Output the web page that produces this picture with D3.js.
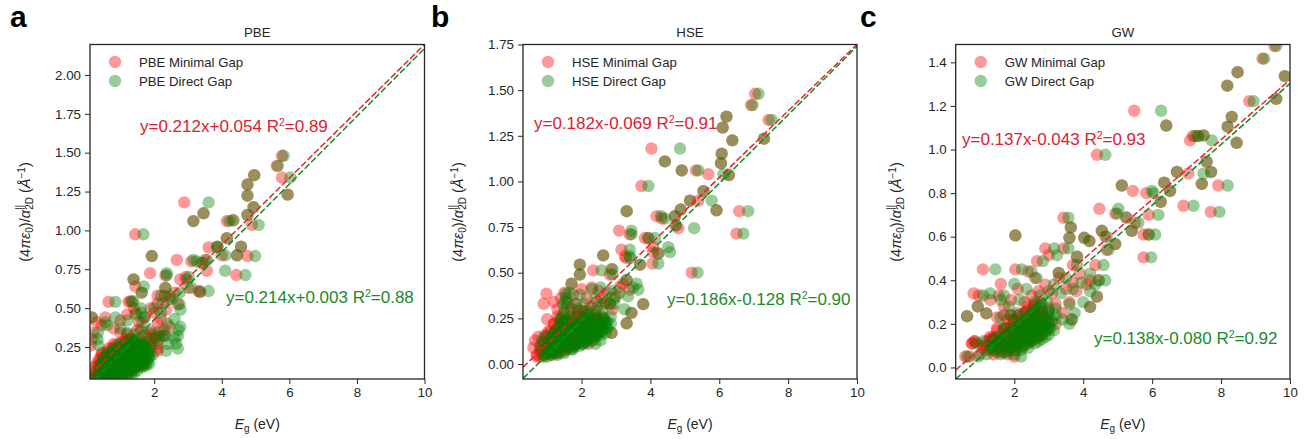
<!DOCTYPE html>
<html>
<head>
<meta charset="utf-8">
<script src="https://cdn.jsdelivr.net/npm/d3@7"></script>
<style>
body { margin: 0; background: #fff; }
text { font-family: "Liberation Sans", Arial, sans-serif; fill: #262626; }
</style>
</head>
<body>
<div id="chart"></div>
<script>
// values, each row is 10 materials
var pbeMinX = [
  5.78,5.63,5.78,4.76,4.96,4.76,5.95,2.89,3.16,3.46,
  4.94,4.76,4.15,4.32,4.89,1.44,4.15,3.61,3.86,4.57,
  4.0,4.45,4.76,1.93,2.67,3.1,3.51,3.4,1.88,2.33,
  4.43,3.56,1.39,2.77,2.93,1.44,1.63,3.31,2.33,3.36,
  3.0,.65,1.24,1.3,2.1,2.3,2.45,2.6,2.7,2.1,
  .15,.3,.15,.12,.45,.55,.8,1.0,1.2,1.4,
  1.45,1.55,1.7,1.9,2.0,2.1,2.2,2.35,2.45,2.3,
  2.25,2.1,2.1,1.0,1.2,1.5,1.7,1.8,1.9,.2,
  .12,.15,.2,.25,.3,.35,.4,.45,.5,.55,
  .6,.65,.7,.75,.8,.85,.9,.95,1.0,1.05,
  .35,.45,.55,.65,.75,.85,.95,1.05,1.15,1.25,
  1.1,1.2,1.3,1.35,1.4,1.45,1.5,1.55,1.6,1.65,
  .7,.8,.9,1.0,1.1,1.2,1.3,1.4,1.5,1.6,
  1.7,1.75,1.8,1.4,1.3,1.2,1.1,1.55,1.65,1.45,
  1.9,2.0,2.1,2.0,1.9,2.15,.5,.4,.6,.3,
  .3,.45,.55,.7,.8,.9,1.0,1.1,1.2,1.3,
  .35,.5,.65,.75,.85,.95,1.05,1.15,1.25,1.35,
  .45,.6,.75,.9,1.0,1.1,1.2,1.3,1.4,1.45,
  1.5,1.55,1.6,1.65,1.7,1.35,1.45,1.55,1.25,1.15,
  .2,.4,.6,.85,.95,1.15,1.3,1.4,1.05,.8,
  .55,.7,.8,1.0,1.1,1.2,1.35,1.5,1.6,1.7
];
var pbeDirX = [
  5.83,5.66,6.03,4.76,4.96,4.76,5.95,3.61,3.16,3.46,
  4.94,4.76,4.22,4.35,5.09,1.68,4.15,3.86,3.88,4.57,
  4.1,4.45,4.99,1.93,3.16,3.26,3.56,3.45,2.37,2.37,
  4.7,4.1,1.39,2.97,3.02,1.69,1.63,3.61,2.33,3.36,
  3.1,.85,1.34,1.38,2.2,2.45,2.52,2.75,2.75,2.25,
  .16,.55,.32,.35,.6,.85,1.0,1.2,1.45,1.6,
  1.62,1.65,1.72,2.0,2.2,2.4,2.6,2.78,2.77,2.72,
  2.7,2.65,2.35,1.2,1.4,1.6,1.85,2.05,2.15,.33,
  .25,.3,.35,.4,.45,.5,.55,.6,.7,.75,
  .8,.8,.9,.95,1.0,1.0,1.05,1.1,1.2,1.2,
  .5,.65,.7,.8,.95,1.05,1.15,1.25,1.3,1.4,
  1.3,1.35,1.45,1.5,1.55,1.65,1.7,1.7,1.75,1.85,
  .85,1.0,1.1,1.2,1.25,1.4,1.5,1.6,1.65,1.75,
  1.85,1.9,1.95,1.6,1.45,1.35,1.3,1.7,1.8,1.6,
  2.4,2.6,2.7,2.3,2.1,2.35,.6,.5,.75,.4,
  .45,.6,.7,.85,.95,1.05,1.15,1.25,1.35,1.45,
  .5,.65,.8,.9,1.0,1.1,1.2,1.3,1.4,1.5,
  .6,.75,.9,1.05,1.15,1.25,1.35,1.45,1.55,1.6,
  1.65,1.7,1.75,1.8,1.85,1.5,1.6,1.7,1.4,1.3,
  .35,.55,.75,1.0,1.1,1.3,1.45,1.55,1.2,.95,
  .7,.85,.95,1.15,1.25,1.35,1.5,1.65,1.75,1.85
];
var pbeY = [
  1.48,1.415,1.34,1.295,1.355,1.223,1.23,1.18,1.06,1.11,
  1.15,1.10,1.06,1.065,1.035,.975,.95,.89,.895,.895,
  .84,.84,.835,.835,.81,.80,.81,.79,.725,.71,
  .713,.74,.685,.685,.70,.64,.60,.61,.63,.605,
  .63,.54,.54,.545,.58,.58,.56,.60,.525,.53,
  .44,.41,.30,.26,.39,.44,.37,.42,.46,.50,
  .47,.41,.44,.50,.47,.40,.43,.49,.38,.36,
  .32,.27,.225,.34,.33,.36,.34,.31,.35,.34,
  .06,.09,.055,.12,.07,.1,.06,.13,.08,.05,
  .11,.07,.14,.09,.17,.06,.12,.15,.08,.19,
  .16,.2,.18,.24,.21,.26,.23,.28,.13,.17,
  .1,.22,.14,.26,.19,.12,.23,.16,.28,.21,
  .19,.13,.19,.13,.24,.08,.2,.16,.18,.13,
  .18,.25,.2,.29,.3,.29,.16,.26,.15,.22,
  .27,.31,.24,.33,.29,.32,.15,.18,.22,.14,
  .07,.1,.06,.08,.12,.07,.1,.06,.09,.12,
  .13,.16,.13,.17,.2,.15,.18,.13,.16,.1,
  .21,.2,.24,.23,.27,.22,.26,.21,.15,.18,
  .13,.2,.16,.23,.19,.26,.24,.27,.29,.3,
  .05,.05,.1,.05,.09,.1,.15,.2,.24,.27,
  .14,.18,.09,.13,.17,.2,.18,.22,.25,.14
];

var hseMinX = [
  7.04,6.92,7.43,6.21,6.1,6.38,7.3,4.03,4.42,6.07,
  6.05,4.91,5.32,5.68,6.28,3.74,5.54,5.15,5.39,3.31,
  5.92,6.58,4.18,4.33,4.88,4.71,4.74,4.81,3.09,3.4,
  6.5,3.84,3.94,4.08,4.08,4.23,3.16,3.26,3.3,2.63,
  4.06,3.7,5.2,1.95,1.95,2.34,2.87,2.82,3.31,1.71,
  3.4,3.79,.98,.9,1.0,1.2,3.45,3.31,2.87,2.82,
  1.3,1.4,1.5,1.6,1.75,1.85,2.0,2.15,2.3,2.5,
  2.6,2.75,3.0,3.1,3.2,2.05,2.25,2.45,2.65,2.9,
  .6,.65,.7,.75,.8,.85,.9,.95,1.0,1.05,
  1.1,1.15,1.2,1.25,1.3,1.35,1.4,1.45,1.5,1.55,
  1.6,1.65,1.7,1.75,1.8,1.85,1.9,1.95,2.0,2.05,
  2.1,2.15,2.2,2.25,2.3,2.35,2.4,2.45,2.5,2.55,
  1.0,1.1,1.2,1.3,1.4,1.5,1.6,1.7,1.8,1.9,
  1.2,1.3,1.4,1.5,1.6,1.7,1.8,1.9,2.0,2.1,
  2.0,2.1,2.2,2.3,2.4,2.5,2.6,2.2,2.3,2.4,
  .7,.8,.9,1.0,1.1,1.2,1.3,1.4,1.5,1.6,
  .9,1.0,1.1,1.2,1.3,1.4,1.5,1.6,1.7,1.8,
  1.2,1.3,1.4,1.5,1.6,1.7,1.8,1.9,2.0,2.1,
  1.9,2.0,2.1,2.2,2.3,2.4,2.5,2.2,2.0,1.8,
  .8,1.0,1.15,1.35,1.55,1.75,1.95,2.15,2.35,2.45,
  1.65,1.45,1.25,1.05,1.85,2.05,2.25,2.55,2.65,.95
];
var hseDirX = [
  7.14,6.97,7.52,6.21,6.1,6.38,7.3,4.86,4.42,6.07,
  6.05,4.91,5.39,6.12,6.28,3.94,5.54,5.15,5.78,3.31,
  5.92,6.84,4.31,4.42,4.88,4.71,4.74,5.27,3.45,3.45,
  6.7,3.94,4.13,4.52,4.57,4.23,3.4,3.4,3.42,2.63,
  4.23,3.7,5.37,1.95,1.95,2.58,2.9,2.9,3.31,1.71,
  3.65,3.79,1.55,1.47,1.35,1.55,3.45,3.31,2.87,2.82,
  1.5,1.55,1.65,1.8,1.95,2.1,2.3,2.4,2.55,2.85,
  2.95,3.1,3.35,3.5,3.6,2.2,2.45,2.7,2.95,3.25,
  .8,.85,.9,.95,1.0,1.05,1.1,1.15,1.2,1.25,
  1.25,1.3,1.35,1.45,1.5,1.5,1.6,1.65,1.7,1.75,
  1.75,1.85,1.9,1.95,2.0,2.05,2.1,2.15,2.2,2.25,
  2.25,2.35,2.4,2.45,2.5,2.55,2.6,2.65,2.7,2.75,
  1.15,1.25,1.35,1.45,1.55,1.65,1.75,1.9,2.0,2.1,
  1.4,1.45,1.55,1.65,1.8,1.9,2.0,2.1,2.2,2.3,
  2.2,2.3,2.4,2.5,2.6,2.7,2.85,2.4,2.5,2.6,
  .9,1.0,1.1,1.2,1.3,1.4,1.5,1.6,1.7,1.8,
  1.1,1.2,1.3,1.4,1.5,1.6,1.7,1.8,1.9,2.0,
  1.4,1.5,1.6,1.7,1.8,1.9,2.0,2.1,2.2,2.3,
  2.1,2.2,2.3,2.4,2.5,2.6,2.7,2.4,2.2,2.0,
  1.0,1.2,1.35,1.55,1.75,1.95,2.15,2.35,2.55,2.65,
  1.85,1.65,1.45,1.25,2.05,2.25,2.45,2.75,2.85,1.15
];
var hseY = [
  1.48,1.418,1.337,1.355,1.295,1.225,1.234,1.18,1.11,1.152,
  1.10,1.06,1.06,1.04,1.035,.975,.947,.895,.895,.837,
  .842,.837,.81,.797,.846,.81,.76,.744,.73,.71,
  .714,.69,.69,.64,.613,.605,.626,.59,.58,.595,
  .55,.544,.50,.544,.49,.513,.52,.49,.46,.44,
  .407,.328,.385,.33,.245,.34,.28,.223,.17,.33,
  .30,.36,.39,.33,.38,.33,.41,.36,.42,.40,
  .36,.39,.37,.42,.44,.29,.31,.34,.33,.30,
  .09,.13,.05,.15,.04,.08,.12,.16,.06,.10,
  .18,.05,.08,.12,.20,.06,.10,.15,.23,.08,
  .12,.18,.26,.10,.15,.21,.29,.12,.17,.24,
  .14,.20,.27,.16,.22,.13,.19,.25,.17,.23,
  .07,.14,.11,.16,.13,.18,.09,.21,.11,.15,
  .22,.26,.24,.28,.20,.30,.16,.27,.20,.13,
  .18,.25,.15,.22,.29,.20,.26,.11,.17,.24,
  .04,.07,.05,.09,.06,.1,.07,.11,.08,.1,
  .12,.15,.11,.17,.13,.18,.14,.17,.12,.14,
  .22,.2,.24,.2,.23,.19,.22,.17,.2,.15,
  .12,.14,.19,.17,.21,.18,.23,.25,.25,.26,
  .1,.07,.13,.15,.11,.16,.22,.23,.16,.25,
  .2,.22,.15,.18,.11,.17,.2,.2,.22,.08
];

var gwMinX = [
  9.55,9.2,8.48,8.18,9.85,8.82,9.6,8.31,8.19,5.48,
  6.41,7.1,7.18,7.32,7.49,8.45,4.4,7.58,7.05,6.72,
  7.71,5.12,6.35,7.44,7.92,5.44,5.83,6.52,6.25,6.91,
  7.7,4.47,4.93,5.25,5.9,5.5,5.41,5.75,5.9,5.75,
  3.43,3.64,2.03,3.6,4.54,4.03,4.18,4.64,4.93,4.68,
  2.9,3.43,3.0,2.66,3.82,3.7,4.35,1.09,2.03,2.4,
  2.6,3.29,4.2,4.45,1.61,.82,.97,1.3,.63,.94,
  1.19,4.2,4.4,3.67,.58,.7,.77,.85,1.35,1.55,
  1.6,1.7,1.8,1.9,2.0,2.1,2.2,2.3,2.4,2.5,
  2.6,2.7,2.8,2.9,3.0,1.65,1.75,1.85,1.95,2.05,
  2.15,2.25,2.35,2.45,2.55,2.65,2.75,2.85,1.5,1.7,
  1.9,2.1,2.3,2.5,2.7,2.9,3.1,3.3,3.5,3.7,
  3.9,4.1,3.2,3.4,3.6,3.8,2.6,2.8,3.0,3.2,
  1.2,1.3,1.4,1.5,1.6,1.8,2.0,2.2,2.4,2.6,
  1.0,1.1,1.2,1.4,1.6,1.8,2.0,2.2,2.5,2.8,
  1.3,1.4,1.5,1.6,1.7,1.8,1.9,2.0,2.1,2.2,
  1.4,1.5,1.6,1.7,1.8,1.9,2.0,2.1,2.2,2.3,
  1.8,1.9,2.0,2.1,2.2,2.3,2.4,2.5,2.6,2.7,
  2.3,2.4,2.5,2.6,2.7,2.8,2.9,2.4,2.6,2.8,
  2.15,2.25,2.35,2.45,2.55,2.65,2.25,2.35,2.45,2.55,
  .78,.85,1.1,1.2,1.3,1.7,2.95,2.75,2.05,1.85
];
var gwDirX = [
  9.6,9.25,8.48,8.18,9.85,8.94,9.6,8.31,8.19,6.26,
  6.41,7.73,7.25,7.35,7.49,8.45,4.64,7.58,7.49,6.72,
  7.71,5.12,6.35,7.44,8.19,5.99,6.04,6.52,6.25,7.2,
  7.95,5.02,4.98,5.25,6.18,5.6,5.41,6.09,5.9,5.97,
  3.57,3.64,2.03,3.6,4.54,4.03,4.18,4.68,4.93,4.73,
  3.16,3.57,3.24,2.83,3.82,3.82,4.59,1.45,2.22,2.5,
  2.65,3.29,4.45,4.64,2.0,1.3,1.1,1.6,.63,.94,
  1.19,4.2,4.4,3.67,.63,.95,.9,1.1,1.45,1.7,
  1.75,1.9,2.0,2.1,2.2,2.3,2.45,2.5,2.6,2.7,
  2.8,2.9,3.0,3.1,3.2,1.8,1.95,2.05,2.15,2.25,
  2.35,2.45,2.55,2.65,2.75,2.85,2.95,3.05,1.6,1.85,
  2.15,2.35,2.6,2.75,3.0,3.15,3.35,3.5,3.7,3.95,
  4.2,4.35,3.6,3.75,4.0,4.2,3.0,3.2,3.4,3.6,
  1.4,1.5,1.6,1.7,1.8,2.0,2.2,2.4,2.6,2.8,
  1.2,1.35,1.4,1.6,1.85,2.05,2.2,2.4,2.7,3.0,
  1.5,1.6,1.7,1.8,1.9,2.0,2.1,2.2,2.3,2.4,
  1.6,1.7,1.8,1.9,2.0,2.1,2.2,2.3,2.4,2.5,
  2.0,2.1,2.2,2.3,2.4,2.5,2.6,2.7,2.8,2.9,
  2.5,2.6,2.7,2.8,2.9,3.0,3.1,2.6,2.8,3.0,
  2.35,2.45,2.55,2.65,2.75,2.85,2.45,2.55,2.65,2.75,
  1.35,1.5,1.3,1.4,1.5,1.9,3.15,2.95,2.25,2.05
];
var gwY = [
  1.475,1.417,1.355,1.293,1.337,1.222,1.233,1.15,1.105,1.178,
  1.11,1.042,1.062,1.062,1.065,1.031,.976,.944,.89,.897,
  .897,.835,.848,.842,.835,.81,.80,.81,.76,.742,
  .714,.728,.706,.688,.70,.664,.627,.61,.61,.505,
  .687,.643,.606,.595,.627,.595,.58,.60,.566,.54,
  .546,.546,.515,.488,.508,.47,.47,.45,.45,.44,
  .41,.434,.40,.40,.383,.34,.33,.31,.235,.28,
  .248,.278,.325,.22,.05,.05,.11,.12,.13,.33,
  .10,.12,.15,.11,.17,.13,.19,.15,.21,.17,
  .23,.19,.25,.21,.27,.07,.18,.08,.22,.10,
  .24,.12,.26,.14,.28,.16,.30,.18,.23,.28,
  .31,.36,.30,.33,.35,.38,.34,.41,.36,.39,
  .43,.38,.29,.25,.30,.35,.20,.24,.22,.20,
  .08,.14,.06,.18,.09,.06,.08,.09,.11,.13,
  .06,.09,.10,.13,.13,.16,.05,.18,.12,.15,
  .08,.1,.07,.11,.09,.12,.1,.13,.1,.12,
  .14,.17,.14,.18,.15,.19,.16,.2,.16,.13,
  .22,.24,.21,.25,.22,.19,.16,.2,.17,.14,
  .25,.22,.26,.23,.2,.18,.22,.28,.29,.26,
  .18,.2,.18,.17,.21,.19,.15,.22,.24,.15,
  .11,.12,.1,.12,.13,.24,.17,.24,.14,.17
];

// two end points of each fitted line, from the picture
var pbeMinFit = [[0.1, 0.07], [10, 2.196]];
var pbeDirFit = [[0.25, 0.044], [10, 2.17]];
var hseMinFit = [[0.3, -0.018], [10, 1.751]];
var hseDirFit = [[0.3, -0.08], [10, 1.74]];
var gwMinFit = [[0.3, -0.012], [10, 1.32]];
var gwDirFit = [[0.3, -0.053], [10, 1.303]];

var xTicks = [2, 4, 6, 8, 10];
var pbeYTicks = [0.25, 0.5, 0.75, 1, 1.25, 1.5, 1.75, 2];
var hseYTicks = [0, 0.25, 0.5, 0.75, 1, 1.25, 1.5, 1.75];
var gwYTicks = [0, 0.2, 0.4, 0.6, 0.8, 1, 1.2, 1.4];

var red = "#ff0000", green = "#008000";
var redText = "#e0202f", greenText = "#1c8a2a";
var redLine = "#e8222c", greenLine = "#108a20";

var svg = d3.select("#chart").append("svg")
  .attr("width", 1311)
  .attr("height", 439);

var panels = [
  {letter: "a", letterX: 10, name: "PBE", left: 90, right: 424.5, xMin: 0.1, yDom: [0.044, 2.196], yTicks: pbeYTicks, yFmt: ".2f",
   minX: pbeMinX, dirX: pbeDirX, y: pbeY, minFit: pbeMinFit, dirFit: pbeDirFit, labelGap: 60,
   minText: ["y=0.212x+0.054 R", "=0.89"], minPos: [140, 132], dirText: ["y=0.214x+0.003 R", "=0.88"], dirPos: [226, 303]},
  {letter: "b", letterX: 431, name: "HSE", left: 523, right: 857, xMin: 0.3, yDom: [-0.082, 1.75], yTicks: hseYTicks, yFmt: ".2f",
   minX: hseMinX, dirX: hseDirX, y: hseY, minFit: hseMinFit, dirFit: hseDirFit, labelGap: 60,
   minText: ["y=0.182x-0.069 R", "=0.91"], minPos: [534, 129], dirText: ["y=0.186x-0.128 R", "=0.90"], dirPos: [667, 305]},
  {letter: "c", letterX: 860, name: "GW", left: 955.7, right: 1290, xMin: 0.3, yDom: [-0.053, 1.482], yTicks: gwYTicks, yFmt: ".1f",
   minX: gwMinX, dirX: gwDirX, y: gwY, minFit: gwMinFit, dirFit: gwDirFit, labelGap: 55,
   minText: ["y=0.137x-0.043 R", "=0.93"], minPos: [962, 145], dirText: ["y=0.138x-0.080 R", "=0.92"], dirPos: [1094, 344]}
];

var plotTop = 44.5, plotBottom = 379;

panels.forEach(function(p, i) {
  var xScale = d3.scaleLinear().domain([p.xMin, 10]).range([p.left, p.right]);
  var yScale = d3.scaleLinear().domain(p.yDom).range([plotBottom, plotTop]);

  svg.append("text")
    .attr("x", p.letterX)
    .attr("y", 27)
    .attr("font-size", "30px")
    .attr("font-weight", "bold")
    .style("fill", "#000")
    .text(p.letter);

  svg.append("text")
    .attr("x", (p.left + p.right) / 2)
    .attr("y", 37)
    .attr("text-anchor", "middle")
    .attr("font-size", "13.3px")
    .text(p.name);

  // markers stay inside the axes box
  svg.append("clipPath").attr("id", "clip" + i)
    .append("rect")
    .attr("x", p.left)
    .attr("y", plotTop)
    .attr("width", p.right - p.left)
    .attr("height", plotBottom - plotTop);

  var plot = svg.append("g").attr("clip-path", "url(#clip" + i + ")");

  plot.selectAll(".min")
    .data(p.y)
    .enter()
    .append("circle")
    .attr("class", "min")
    .attr("cx", function(d, j) { return xScale(p.minX[j]); })
    .attr("cy", function(d) { return yScale(d); })
    .attr("r", 6.2)
    .attr("fill", red)
    .attr("fill-opacity", 0.4);

  plot.selectAll(".dir")
    .data(p.y)
    .enter()
    .append("circle")
    .attr("class", "dir")
    .attr("cx", function(d, j) { return xScale(p.dirX[j]); })
    .attr("cy", function(d) { return yScale(d); })
    .attr("r", 6.2)
    .attr("fill", green)
    .attr("fill-opacity", 0.4);

  var line = d3.line()
    .x(function(d) { return xScale(d[0]); })
    .y(function(d) { return yScale(d[1]); });

  plot.append("path")
    .attr("d", line(p.minFit))
    .attr("fill", "none")
    .attr("stroke", redLine)
    .attr("stroke-width", 1.5)
    .attr("stroke-dasharray", "6.5,2.5");

  plot.append("path")
    .attr("d", line(p.dirFit))
    .attr("fill", "none")
    .attr("stroke", greenLine)
    .attr("stroke-width", 1.5)
    .attr("stroke-dasharray", "6.5,2.5");

  // axes box
  svg.append("rect")
    .attr("x", p.left)
    .attr("y", plotTop)
    .attr("width", p.right - p.left)
    .attr("height", plotBottom - plotTop)
    .attr("fill", "none")
    .attr("stroke", "#262626")
    .attr("stroke-width", 1.3);

  var xAxis = svg.append("g")
    .attr("transform", "translate(0," + plotBottom + ")")
    .call(d3.axisBottom(xScale).tickValues(xTicks).tickFormat(d3.format("d")).tickSize(5).tickPadding(4));
  var yAxis = svg.append("g")
    .attr("transform", "translate(" + p.left + ",0)")
    .call(d3.axisLeft(yScale).tickValues(p.yTicks).tickFormat(d3.format(p.yFmt)).tickSize(5).tickPadding(4));

  [xAxis, yAxis].forEach(function(a) {
    a.select(".domain").remove();
    a.selectAll("line").attr("stroke", "#262626").attr("stroke-width", 1);
    a.attr("font-family", null).attr("font-size", null);
    a.selectAll("text").attr("font-size", "13.3px");
  });

  // x label
  var xl = svg.append("text")
    .attr("x", (p.left + p.right) / 2)
    .attr("y", 429)
    .attr("text-anchor", "middle")
    .attr("font-size", "14px");
  xl.append("tspan").attr("font-style", "italic").text("E");
  xl.append("tspan").attr("font-size", "10px").attr("dy", 3).text("g");
  xl.append("tspan").attr("dy", -3).text(" (eV)");

  // y label
  var yl = svg.append("text")
    .attr("transform", "translate(" + (p.left - p.labelGap) + ",212) rotate(-90)")
    .attr("text-anchor", "middle")
    .attr("font-size", "14.5px");
  yl.append("tspan").text("(4");
  yl.append("tspan").attr("font-style", "italic").text("\u03c0\u03b5");
  yl.append("tspan").attr("font-size", "10px").attr("dy", 3).text("0");
  yl.append("tspan").attr("dy", -3).text(")/");
  yl.append("tspan").attr("font-style", "italic").text("\u03b1");
  yl.append("tspan").attr("font-size", "10px").attr("dy", -7).text("||");
  yl.append("tspan").attr("font-size", "10px").attr("dy", 10).attr("dx", -5).text("2D");
  yl.append("tspan").attr("dy", -3).text(" (");
  yl.append("tspan").attr("font-style", "italic").text("\u00c5");
  yl.append("tspan").attr("font-size", "10px").attr("dy", -5).text("\u22121");
  yl.append("tspan").attr("dy", 5).text(")");

  // legend
  [["Minimal", red, 62], ["Direct", green, 81]].forEach(function(l) {
    svg.append("circle")
      .attr("cx", p.left + 25)
      .attr("cy", l[2])
      .attr("r", 6.2)
      .attr("fill", l[1])
      .attr("fill-opacity", 0.4);
    svg.append("text")
      .attr("x", p.left + 49)
      .attr("y", l[2] + 5)
      .attr("font-size", "13.2px")
      .text(p.name + " " + l[0] + " Gap");
  });

  // fit equations
  [[p.minText, p.minPos, redText], [p.dirText, p.dirPos, greenText]].forEach(function(e) {
    var t = svg.append("text")
      .attr("x", e[1][0])
      .attr("y", e[1][1])
      .attr("font-size", "17px")
      .style("fill", e[2]);
    t.append("tspan").text(e[0][0]);
    t.append("tspan").attr("font-size", "10.5px").attr("dy", -6).text("2");
    t.append("tspan").attr("dy", 6).text(e[0][1]);
  });
});
</script>
</body>
</html>
